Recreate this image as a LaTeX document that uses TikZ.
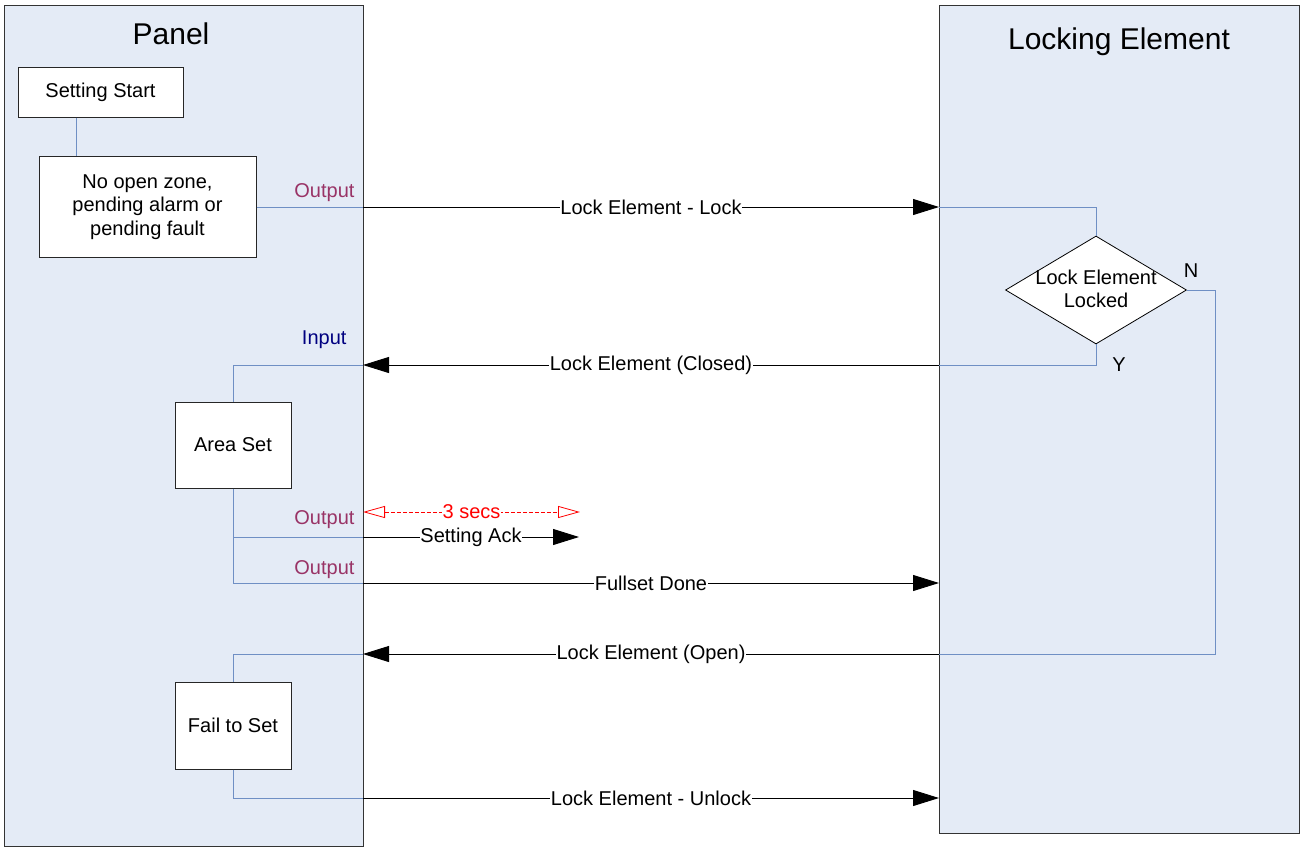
\documentclass[tikz,border=0pt]{standalone}
\usepackage{fontspec}
\setmainfont{Liberation Sans}
\usetikzlibrary{arrows.meta, shapes.geometric}

\definecolor{lanefill}{HTML}{E4EBF6}
\definecolor{flowblue}{HTML}{6F8FC4}
\definecolor{outcol}{HTML}{993366}
\definecolor{incol}{HTML}{000080}

\tikzset{
  lane/.style={draw=black!80, fill=lanefill, line width=1pt, inner sep=0pt, outer sep=0pt},
  lanetitle/.style={font=\fontsize{30}{34}\selectfont},
  stepbox/.style={draw=black!85, fill=white, line width=1pt, align=center, inner sep=0pt},
  flow/.style={draw=flowblue, line width=1pt},
  msg/.style={draw=black, line width=0.9pt, -{Triangle[length=26pt,width=16pt]}},
  msglabel/.style={fill=white, inner sep=0.5pt},
  timer/.style={draw=red, line width=0.8pt, dash pattern=on 4pt off 2pt,
    {Triangle[open,length=22pt,width=12pt]}-{Triangle[open,length=22pt,width=12pt]}},
  outlabel/.style={anchor=east, text=outcol},
  inlabel/.style={anchor=east, text=incol}
}

\begin{document}
\begin{tikzpicture}[x=1pt, y=-1pt, font=\fontsize{20}{23.5}\selectfont]
\useasboundingbox (0,0) rectangle (1301,847);

% swim lanes
\node[lane, anchor=north west, minimum width=359, minimum height=841] (panel) at (4,5) {};
\node[lane, anchor=north west, minimum width=360, minimum height=828] (lockel) at (939,5) {};
\node[lanetitle] (paneltitle) at (171,34) {Panel};
\node[lanetitle] (lockeltitle) at (1119,42) {Locking Element};

% connection points on the lane borders
\coordinate (pA) at (363,207);
\coordinate (lA) at (939,207);
\coordinate (lB) at (939,365);
\coordinate (pB) at (363,365);
\coordinate (pT) at (363,512);
\coordinate (tEnd) at (580,512);
\coordinate (pC) at (363,537);
\coordinate (ackEnd) at (579,537);
\coordinate (pD) at (363,583);
\coordinate (lD) at (939,583);
\coordinate (lE) at (939,654);
\coordinate (pE) at (363,654);
\coordinate (pF) at (363,798);
\coordinate (lF) at (939,798);

% steps
\node[stepbox, minimum width=165, minimum height=50] (start) at (100.5,92) {Setting Start};
\node[stepbox, minimum width=217, minimum height=101] (check) at (147.5,207)
  {No open zone,\\pending alarm or\\pending fault};
\node[diamond, draw=black, fill=white, line width=0.8pt, inner sep=0pt,
  minimum width=181, minimum height=108] (decide) at (1096,290) {};
\node[align=center] (decidetext) at (1096,289) {Lock Element\\Locked};
\node[stepbox, minimum width=116, minimum height=86] (areaset) at (233,445) {Area Set};
\node[stepbox, minimum width=116, minimum height=87] (failset) at (233,725.5) {Fail to Set};

% flow inside the lanes
\draw[flow] ([xshift=-24.5]start.south) -- ([xshift=-24.5]start.south |- check.north);
\draw[flow] (check.east) -- (pA);
\draw[flow] (lA) -| (decide.north);
\draw[flow] (decide.south) |- (lB);
\draw[flow] (pB) -| (areaset.north);
\draw[flow] (areaset.south) |- (pD);
\draw[flow] (areaset.south |- pC) -- (pC);
\draw[flow] (decide.east) -- ++(29,0) |- (lE);
\draw[flow] (pE) -| (failset.north);
\draw[flow] (failset.south) |- (pF);

% messages
\draw[msg] (pA) -- node[msglabel] (m1) {Lock Element - Lock} (lA);
\draw[msg] (lB) -- node[msglabel] (m2) {Lock Element (Closed)} (pB);
\draw[timer] (pT) -- node[msglabel, text=red] (m3) {3 secs} (tEnd);
\draw[msg] (pC) -- node[msglabel] (m4) {Setting Ack} (ackEnd);
\draw[msg] (pD) -- node[msglabel] (m5) {Fullset Done} (lD);
\draw[msg] (lE) -- node[msglabel] (m6) {Lock Element (Open)} (pE);
\draw[msg] (pF) -- node[msglabel] (m7) {Lock Element - Unlock} (lF);

% port labels
\node[outlabel] (out1) at (358,193) {Output};
\node[inlabel] (in1) at (350,340) {Input};
\node[outlabel] (out2) at (358,520) {Output};
\node[outlabel] (out3) at (358,570) {Output};
\node (labN) at (1191,271) {N};
\node (labY) at (1119,365) {Y};
\end{tikzpicture}
\end{document}
